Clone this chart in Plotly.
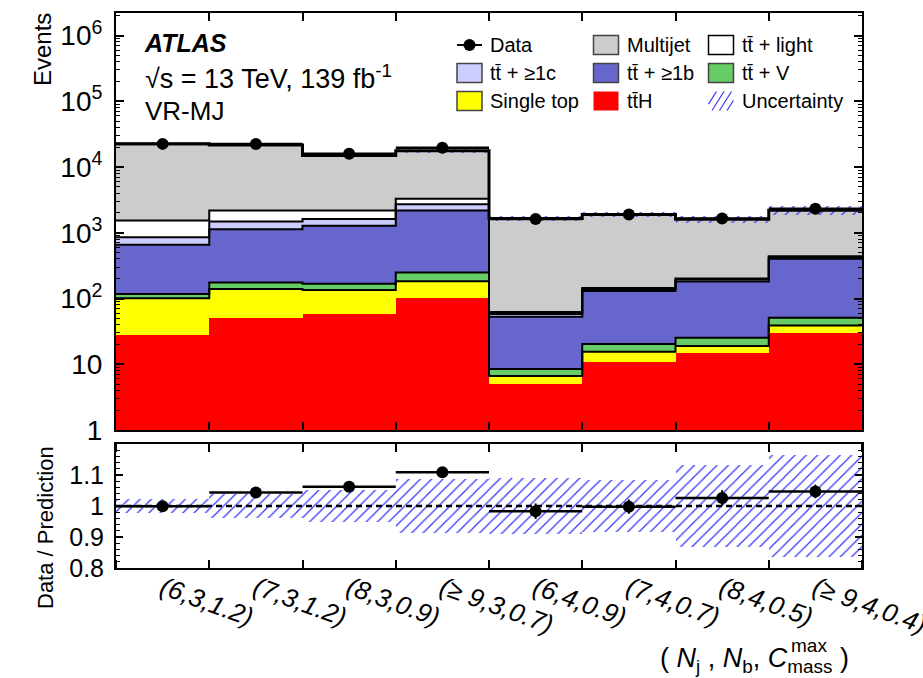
import numpy as np
import plotly.graph_objects as go

# Bin labels: (N_j, N_b, C_mass^max)
bin_labels = ["(6,3,1.2)", "(7,3,1.2)", "(8,3,0.9)", "(≥ 9,3,0.7)",
              "(6,4,0.9)", "(7,4,0.7)", "(8,4,0.5)", "(≥ 9,4,0.4)"]

# Expected yields per process (stacked bottom -> top)
tth        = [28, 50, 58, 102, 5.0, 11, 14.7, 30.3]
single_top = [73, 89, 77, 81, 1.6, 4.5, 4.3, 8.7]
ttv        = [16, 36, 32, 65, 1.9, 4.9, 6.4, 12]
tt_b       = [538, 960, 1107, 1930, 44.5, 109.6, 155.6, 350]
tt_c       = [202, 347, 351, 546, 5, 10, 13, 24]
tt_light   = [678, 696, 555, 556, 4.5, 5, 7, 15]
multijet   = [20965, 19352, 12790, 14370, 1582, 1747, 1410, 1767]

# Observed events and uncertainties
data           = [22480, 22470, 15900, 19570, 1617, 1888, 1653, 2311]
data_ratio_err = [0.007, 0.007, 0.008, 0.008, 0.025, 0.023, 0.025, 0.022]
rel_unc        = [0.022, 0.038, 0.051, 0.088, 0.090, 0.085, 0.133, 0.166]

FONT = "Liberation Sans"
HATCH = "rgb(55,55,250)"

processes = [
    ("tt̄H", tth, "#ff0000", False),
    ("Single top", single_top, "#ffff00", True),
    ("tt̄ + V", ttv, "#66cc66", True),
    ("tt̄ + ≥1b", tt_b, "#6666cc", True),
    ("tt̄ + ≥1c", tt_c, "#ccccff", True),
    ("tt̄ + light", tt_light, "#ffffff", True),
    ("Multijet", multijet, "#cccccc", True),
]

nb = len(bin_labels)
centers = np.arange(nb) + 0.5
edges = np.arange(nb + 1)

fig = go.Figure()

# Stacked filled histograms
for name, vals, col, _ in processes:
    fig.add_trace(go.Bar(x=centers, y=vals, width=1.0, marker=dict(color=col, line=dict(width=0)),
                         name=name, showlegend=False, xaxis="x", yaxis="y"))

# Step outlines on top of each stacked component
cum = np.zeros(nb)
for i, (name, vals, col, outline) in enumerate(processes):
    cum = cum + np.array(vals, dtype=float)
    if outline:
        lw = 3 if i == len(processes) - 1 else 2
        fig.add_trace(go.Scatter(x=edges, y=np.append(cum, cum[-1]), mode="lines",
                                 line=dict(color="black", width=lw, shape="hv"),
                                 showlegend=False, hoverinfo="skip", xaxis="x", yaxis="y"))
total = cum
unc = np.array(rel_unc)

hatch = dict(shape="/", fgcolor=HATCH, fgopacity=1, size=8, solidity=0.16)

# Uncertainty band on the total prediction
fig.add_trace(go.Bar(x=centers, y=total * 2 * unc, base=total * (1 - unc), width=1.0,
                     marker=dict(color="rgba(0,0,0,0)", line=dict(width=0), pattern=hatch),
                     showlegend=False, xaxis="x", yaxis="y"))

data_arr = np.array(data, dtype=float)
ratio = data_arr / total
ratio_err = np.array(data_ratio_err)

fig.add_trace(go.Scatter(x=centers, y=data_arr, mode="markers",
                         marker=dict(color="black", size=12),
                         error_x=dict(type="data", array=[0.5] * nb, color="black", thickness=2.5, width=0),
                         error_y=dict(type="data", array=ratio_err * total, color="black", thickness=2, width=0),
                         showlegend=False, xaxis="x", yaxis="y"))

# Ratio panel
fig.add_trace(go.Bar(x=centers, y=2 * unc, base=1 - unc, width=1.0,
                     marker=dict(color="rgba(0,0,0,0)", line=dict(width=0), pattern=hatch),
                     showlegend=False, xaxis="x2", yaxis="y2"))
fig.add_trace(go.Scatter(x=[0, nb], y=[1, 1], mode="lines",
                         line=dict(color="black", width=2.5, dash="6px,4px"),
                         showlegend=False, hoverinfo="skip", xaxis="x2", yaxis="y2"))
fig.add_trace(go.Scatter(x=centers, y=ratio, mode="markers",
                         marker=dict(color="black", size=12),
                         error_x=dict(type="data", array=[0.5] * nb, color="black", thickness=2.5, width=0),
                         error_y=dict(type="data", array=ratio_err, color="black", thickness=2, width=0),
                         showlegend=False, xaxis="x2", yaxis="y2"))

# Axes
L, R, T, B = 116, 61, 13, 110
W, H = 923, 678
pw, ph = W - L - R, H - T - B


def px(x):
    return (x - L) / pw


def py(y):
    return (H - B - y) / ph


main_bottom = py(430)
ratio_top = py(444)

log_major = [10 ** k for k in range(7)]
log_major_text = ["1", "10"] + [f"10<sup>{k}</sup>" for k in range(2, 7)]
log_minor = [m * 10 ** k for k in range(7) for m in range(2, 10)]

axis_common = dict(showline=True, linecolor="black", linewidth=2, mirror="ticks",
                   showgrid=False, zeroline=False, tickcolor="black", automargin=False)

fig.update_layout(
    width=W, height=H,
    margin=dict(l=L, r=R, t=T, b=B, autoexpand=False),
    paper_bgcolor="white", plot_bgcolor="white",
    barmode="stack", bargap=0,
    font=dict(family=FONT, color="black"),
    showlegend=False,
    xaxis=dict(domain=[0, 1], range=[0, nb], anchor="y", tickmode="array", tickvals=list(edges),
               showticklabels=False, ticks="inside", ticklen=8, tickwidth=1.5, **axis_common),
    yaxis=dict(domain=[main_bottom, 1], type="log", range=[0, np.log10(2.2e6)], anchor="x",
               tickmode="array", tickvals=log_major, ticktext=log_major_text,
               ticks="inside", ticklen=8, tickwidth=1.5, tickfont=dict(size=28),
               ticklabelstandoff=6,
               minor=dict(tickmode="array", tickvals=log_minor, ticks="inside", ticklen=4,
                          tickcolor="black", tickwidth=1, showgrid=False),
               **axis_common),
    xaxis2=dict(domain=[0, 1], range=[0, nb], anchor="y2", tickmode="array", tickvals=list(centers),
                ticktext=[f"<i>{t}</i>" for t in bin_labels], tickangle=20,
                tickfont=dict(size=26), ticks="", ticklabelstandoff=-7,
                ticklabeloverflow="allow",
                minor=dict(tickmode="array", tickvals=list(edges), ticks="inside", ticklen=8,
                           tickcolor="black", tickwidth=1.5, showgrid=False),
                **axis_common),
    yaxis2=dict(domain=[0, ratio_top], range=[0.8, 1.2], anchor="x2",
                tickmode="array", tickvals=[0.8, 0.9, 1.0, 1.1], ticktext=["0.8", "0.9", "1", "1.1"],
                ticks="inside", ticklen=7, tickwidth=1.5, tickfont=dict(size=25),
                ticklabelstandoff=5,
                minor=dict(dtick=0.02, ticks="inside", ticklen=4, tickcolor="black", tickwidth=1,
                           showgrid=False),
                **axis_common),
)

ann = []
shapes = []

# Axis titles
ann.append(dict(text="Events", x=px(43), y=py(50), xref="paper", yref="paper", textangle=-90,
                showarrow=False, font=dict(size=24), xanchor="center", yanchor="middle"))
ann.append(dict(text="Data / Prediction", x=px(45), y=py(528), xref="paper", yref="paper", textangle=-90,
                showarrow=False, font=dict(size=22), xanchor="center", yanchor="middle"))
ann.append(dict(text="( <i>N</i><sub>j</sub> , <i>N</i><sub>b</sub>, <i>C</i><sub>mass</sub> )",
                x=px(851), y=py(660), xref="paper", yref="paper", showarrow=False,
                font=dict(size=27), xanchor="right", yanchor="middle"))
ann.append(dict(text="max", x=px(789), y=py(646), xref="paper", yref="paper", showarrow=False,
                font=dict(size=19), xanchor="left", yanchor="middle"))

# Labels in the top-left corner
ann.append(dict(text="<b><i>ATLAS</i></b>", x=px(142), y=py(43), xref="paper", yref="paper",
                showarrow=False, font=dict(size=25), xanchor="left", yanchor="middle"))
ann.append(dict(text="√s = 13 TeV, 139 fb<sup>-1</sup>", x=px(143), y=py(77), xref="paper", yref="paper",
                showarrow=False, font=dict(size=27), xanchor="left", yanchor="middle"))
ann.append(dict(text="VR-MJ", x=px(143), y=py(111), xref="paper", yref="paper",
                showarrow=False, font=dict(size=26), xanchor="left", yanchor="middle"))

# Legend (three columns)
cols = [457, 593.5, 708.5]
rows = [45, 73, 101]
bw, bh = 25, 19
legend_items = [
    (0, 0, "Data", None, None),
    (1, 0, "Multijet", "#cccccc", "#444444"),
    (2, 0, "tt̄ + light", "#ffffff", "black"),
    (0, 1, "tt̄ + ≥1c", "#ccccff", "#444444"),
    (1, 1, "tt̄ + ≥1b", "#6666cc", "#444444"),
    (2, 1, "tt̄ + V", "#66cc66", "#444444"),
    (0, 2, "Single top", "#ffff00", "#444444"),
    (1, 2, "tt̄H", "#ff0000", None),
    (2, 2, "Uncertainty", "hatch", None),
]
for c, r, label, fill, edge in legend_items:
    x0, yc = cols[c], rows[r]
    if label == "Data":
        shapes.append(dict(type="line", xref="paper", yref="paper", x0=px(x0), x1=px(x0 + bw),
                           y0=py(yc), y1=py(yc), line=dict(color="black", width=2)))
        shapes.append(dict(type="circle", xref="paper", yref="paper", x0=px(x0 + bw / 2 - 6),
                           x1=px(x0 + bw / 2 + 6), y0=py(yc - 6), y1=py(yc + 6),
                           fillcolor="black", line=dict(color="black", width=0)))
    elif fill == "hatch":
        for k in range(4):
            xs = x0 - 4 + k * 7.5
            sx0, sx1 = max(xs, x0), min(xs + 12, x0 + bw)
            sy0 = yc + bh / 2 - (sx0 - xs) * bh / 12
            sy1 = yc + bh / 2 - (sx1 - xs) * bh / 12
            shapes.append(dict(type="line", xref="paper", yref="paper", x0=px(sx0), x1=px(sx1),
                               y0=py(sy0), y1=py(sy1), line=dict(color=HATCH, width=1.2)))
    else:
        shapes.append(dict(type="rect", xref="paper", yref="paper", x0=px(x0), x1=px(x0 + bw),
                           y0=py(yc + bh / 2), y1=py(yc - bh / 2), fillcolor=fill,
                           line=dict(color=edge if edge else fill, width=1.5 if edge else 0)))
    ann.append(dict(text=label, x=px(x0 + 31), y=py(yc), xref="paper", yref="paper", showarrow=False,
                    font=dict(size=20), xanchor="left", yanchor="middle"))

fig.update_layout(annotations=ann, shapes=shapes)
fig.write_html("out.html")
